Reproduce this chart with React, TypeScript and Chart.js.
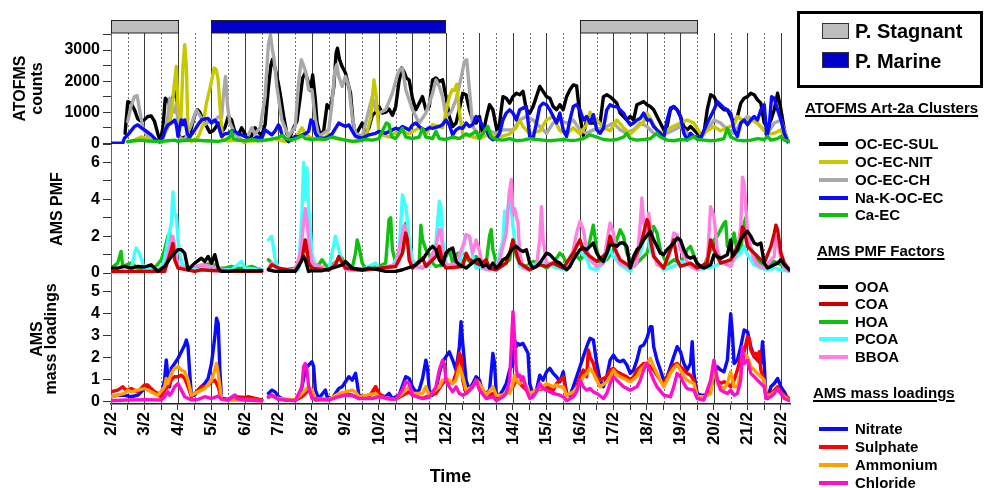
import React, { useEffect, useRef } from 'react';
import { Chart, registerables } from 'chart.js';

Chart.register(...registerables);

type Pt = [number, number | null];

const FONT = '"Liberation Sans", Arial, Helvetica, sans-serif';

// x axis: days of February
const DAY_LABELS = ['2/2', '3/2', '4/2', '5/2', '6/2', '7/2', '8/2', '9/2', '10/2', '11/2', '12/2', '13/2', '14/2', '15/2', '16/2', '17/2', '18/2', '19/2', '20/2', '21/2', '22/2'];
const FIRST_DAY = 2;
const LAST_TIME = 22.27;

// air-mass periods shown above the plot
const PERIOD_NAMES = ['P. Stagnant', 'P. Marine'];
const PERIOD_START = [2, 5, 16];
const PERIOD_END = [4, 12, 19.5];
const PERIOD_KIND = [0, 1, 0];

// y tick values of each panel
const TOP_TICKS = [0, 500, 1000, 1500, 2000, 2500, 3000, 3500];
const TOP_LABELLED = [0, 1000, 2000, 3000];
const MID_TICKS = [0, 1, 2, 3, 4, 5, 6, 7];
const MID_LABELLED = [0, 2, 4, 6];
const BOT_TICKS = [0, 1, 2, 3, 4, 5];
const BOT_LABELLED = [0, 1, 2, 3, 4, 5];

// ---------- ATOFMS Art-2a clusters (counts) ----------
const OC_EC_SUL: Pt[] = [[2.42,320],[2.5,1340],[2.6,1290],[2.7,1080],[2.8,780],[2.9,700],[3.0,760],[3.1,860],[3.2,880],[3.3,700],[3.4,300],[3.47,60],[3.55,500],[3.62,1450],[3.7,1350],[3.78,1180],[3.85,1500],[3.92,1660],[3.97,1450],[4.02,250],[4.1,150],[4.2,200],[4.3,120],[4.4,500],[4.5,900],[4.58,1080],[4.65,1000],[4.75,750],[4.85,550],[4.95,350],[5.05,400],[5.15,550],[5.22,650],[5.3,350],[5.4,500],[5.5,860],[5.6,750],[5.7,350],[5.8,250],[5.9,500],[6.0,300],[6.1,150],[6.2,250],[6.3,500],[6.4,350],[6.5,250],[6.6,600],[6.7,1800],[6.77,2500],[6.82,2700],[6.9,2400],[7.0,1900],[7.05,1600],[7.15,900],[7.25,300],[7.35,200],[7.45,500],[7.55,700],[7.65,1500],[7.72,2100],[7.8,2260],[7.88,2000],[7.95,1700],[8.02,2200],[8.1,1400],[8.15,660],[8.25,250],[8.35,400],[8.45,1240],[8.55,1100],[8.65,1800],[8.72,2900],[8.76,3060],[8.82,2700],[8.9,2470],[9.0,2260],[9.08,1900],[9.15,1610],[9.22,750],[9.3,250],[9.4,450],[9.5,650],[9.6,300],[9.7,500],[9.8,900],[9.9,1000],[10.0,1180],[10.1,970],[10.2,1000],[10.3,1100],[10.4,900],[10.5,1180],[10.6,2000],[10.68,2420],[10.75,2300],[10.82,2100],[10.9,2040],[11.0,1450],[11.1,1080],[11.2,1290],[11.3,1500],[11.4,1080],[11.5,1180],[11.6,2040],[11.7,2100],[11.8,1990],[11.9,2040],[12.0,1500],[12.1,860],[12.2,540],[12.3,650],[12.4,1100],[12.5,1610],[12.6,1560],[12.7,1080],[12.8,750],[12.9,650],[13.0,860],[13.1,250],[13.2,800],[13.3,1240],[13.4,1080],[13.55,250],[13.6,650],[13.7,1500],[13.8,1450],[13.9,1290],[14.0,1500],[14.1,1610],[14.2,1560],[14.3,1670],[14.4,1080],[14.5,970],[14.6,1180],[14.7,1500],[14.8,1830],[14.9,1670],[15.0,1500],[15.1,1450],[15.2,1180],[15.3,1080],[15.4,1240],[15.5,1080],[15.6,1500],[15.7,1720],[15.8,1880],[15.9,1850],[16.0,860],[16.1,250],[16.2,750],[16.3,650],[16.4,650],[16.5,700],[16.6,650],[16.7,1500],[16.8,1560],[16.9,1500],[17.0,1400],[17.1,1290],[17.2,970],[17.3,860],[17.4,750],[17.5,860],[17.6,750],[17.7,1240],[17.8,1290],[17.9,1340],[18.0,1240],[18.1,1180],[18.2,1080],[18.3,860],[18.4,650],[18.5,430],[18.6,540],[18.7,1080],[18.8,1180],[18.9,1080],[19.0,860],[19.1,540],[19.2,430],[19.3,540],[19.4,430],[19.5,320],[19.6,220],[19.7,320],[19.8,1080],[19.9,1560],[20.0,1500],[20.1,1290],[20.2,1180],[20.3,1080],[20.4,1080],[20.5,860],[20.6,650],[20.7,860],[20.8,1290],[20.9,1450],[21.0,1500],[21.1,1610],[21.2,1560],[21.3,1400],[21.4,1290],[21.5,650],[21.6,540],[21.7,750],[21.8,1080],[21.9,1610],[22.0,1080],[22.1,430],[22.2,50]];

const OC_EC_NIT: Pt[] = [[2.5,50],[2.7,100],[2.9,200],[3.1,150],[3.3,100],[3.5,50],[3.6,300],[3.7,500],[3.8,900],[3.88,1800],[3.95,2470],[4.0,1200],[4.08,600],[4.15,2500],[4.2,3170],[4.25,2500],[4.3,300],[4.4,50],[4.6,200],[4.75,600],[4.85,1300],[4.92,1610],[5.0,1990],[5.08,2420],[5.14,2370],[5.2,2040],[5.26,1080],[5.33,100],[5.5,80],[5.8,100],[6.0,50],[6.3,80],[6.6,100],[6.9,150],[7.2,50],[7.5,150],[7.7,500],[7.8,300],[8.0,150],[8.3,100],[8.5,300],[8.7,150],[9.0,100],[9.3,50],[9.6,200],[9.75,800],[9.85,2040],[9.92,1500],[10.0,300],[10.3,200],[10.6,400],[10.9,300],[11.2,500],[11.4,300],[11.6,600],[11.9,500],[12.0,1000],[12.1,1500],[12.18,1720],[12.25,1700],[12.32,1900],[12.4,1000],[12.5,300],[12.8,200],[13.0,150],[13.3,300],[13.6,200],[13.9,300],[14.1,500],[14.2,750],[14.3,540],[14.5,300],[14.8,400],[15.0,750],[15.2,860],[15.4,400],[15.6,300],[15.8,500],[16.0,300],[16.2,600],[16.3,1000],[16.4,800],[16.5,750],[16.7,500],[16.9,400],[17.1,750],[17.3,500],[17.5,300],[17.7,500],[17.9,700],[18.0,970],[18.1,800],[18.3,400],[18.5,320],[18.7,500],[18.9,600],[19.1,700],[19.2,750],[19.4,650],[19.6,300],[19.8,400],[20.0,540],[20.2,400],[20.4,500],[20.6,600],[20.7,860],[20.9,700],[21.1,750],[21.3,650],[21.5,400],[21.7,300],[21.8,320],[22.0,430],[22.1,200],[22.2,100]];

const OC_EC_CH: Pt[] = [[2.5,700],[2.6,1200],[2.7,1500],[2.78,1530],[2.85,1100],[2.95,500],[3.05,300],[3.2,100],[3.4,50],[3.5,0],[3.6,300],[3.7,900],[3.75,1450],[3.82,1100],[3.9,1000],[3.96,1300],[4.02,200],[4.2,100],[4.4,600],[4.55,1075],[4.65,900],[4.8,600],[5.0,750],[5.1,700],[5.2,850],[5.3,860],[5.37,1700],[5.42,2150],[5.48,1200],[5.55,650],[5.7,300],[5.8,200],[6.0,0],[6.2,500],[6.3,300],[6.45,500],[6.6,1500],[6.7,3200],[6.76,3490],[6.82,3000],[6.87,2690],[6.95,1830],[7.1,750],[7.3,220],[7.5,540],[7.6,1935],[7.68,2690],[7.75,2500],[7.82,2260],[7.9,1720],[8.0,1720],[8.1,750],[8.2,220],[8.5,430],[8.6,1290],[8.68,2365],[8.74,2530],[8.8,2150],[8.9,1830],[9.0,2150],[9.1,1830],[9.2,860],[9.3,320],[9.5,220],[9.7,1075],[9.8,1500],[9.9,1075],[10.0,970],[10.2,1075],[10.4,1610],[10.55,2200],[10.62,2365],[10.7,2420],[10.8,1720],[10.9,1400],[11.0,1075],[11.2,650],[11.4,970],[11.6,1610],[11.7,2040],[11.8,1830],[11.9,1500],[12.0,860],[12.15,1000],[12.3,1400],[12.45,2100],[12.55,2630],[12.62,2690],[12.7,1720],[12.8,540],[13.0,220],[13.2,430],[13.5,320],[13.7,430],[14.0,430],[14.2,750],[14.4,860],[14.6,750],[14.8,540],[15.0,320],[15.2,650],[15.4,750],[15.6,650],[15.8,750],[16.0,430],[16.2,320],[16.4,430],[16.6,480],[16.8,540],[17.0,650],[17.2,430],[17.4,320],[17.6,430],[17.8,650],[18.0,540],[18.2,320],[18.4,220],[18.6,320],[18.8,430],[19.0,540],[19.2,320],[19.4,220],[19.6,160],[19.8,430],[20.0,750],[20.2,650],[20.4,430],[20.6,320],[20.8,650],[21.0,860],[21.2,750],[21.4,540],[21.6,320],[21.8,650],[22.0,750],[22.2,110]];

const NA_K_OC_EC: Pt[] = [[2.0,0],[2.35,0],[2.4,160],[2.5,270],[2.6,400],[2.7,540],[2.8,590],[2.9,500],[3.0,430],[3.1,350],[3.2,270],[3.35,100],[3.45,50],[3.55,200],[3.62,430],[3.7,590],[3.8,650],[3.9,750],[3.95,600],[4.0,220],[4.05,500],[4.1,750],[4.15,600],[4.2,750],[4.28,300],[4.35,200],[4.5,430],[4.6,600],[4.7,750],[4.8,780],[4.9,800],[5.0,650],[5.1,750],[5.2,590],[5.3,220],[5.4,300],[5.5,320],[5.6,400],[5.7,380],[5.8,300],[5.9,270],[6.0,220],[6.2,110],[6.35,200],[6.5,160],[6.6,430],[6.7,350],[6.8,270],[6.9,400],[7.0,590],[7.05,500],[7.1,270],[7.3,50],[7.5,220],[7.6,200],[7.7,270],[7.8,300],[7.9,380],[7.97,750],[8.03,700],[8.1,320],[8.2,160],[8.4,160],[8.5,220],[8.6,300],[8.7,480],[8.8,650],[8.9,590],[9.0,540],[9.1,590],[9.2,400],[9.3,220],[9.5,160],[9.7,270],[9.9,320],[10.0,380],[10.2,320],[10.4,430],[10.5,480],[10.6,450],[10.7,540],[10.9,430],[11.0,590],[11.1,650],[11.2,540],[11.3,450],[11.4,430],[11.5,500],[11.6,480],[11.8,540],[11.9,600],[12.0,750],[12.1,590],[12.2,270],[12.3,430],[12.4,500],[12.5,480],[12.6,650],[12.7,540],[12.8,600],[12.9,860],[13.0,750],[13.1,540],[13.2,430],[13.3,200],[13.4,110],[13.5,160],[13.6,320],[13.7,750],[13.8,970],[13.9,1075],[14.0,970],[14.1,750],[14.2,1075],[14.3,1130],[14.4,1180],[14.5,220],[14.6,160],[14.7,650],[14.8,1180],[14.9,1290],[15.0,1240],[15.1,1075],[15.2,860],[15.3,650],[15.4,970],[15.5,430],[15.6,220],[15.7,750],[15.8,1180],[15.9,1240],[16.0,1075],[16.1,750],[16.2,860],[16.3,650],[16.4,920],[16.5,430],[16.6,320],[16.7,480],[16.8,1075],[16.9,1240],[17.0,1180],[17.1,1180],[17.2,1075],[17.3,970],[17.4,750],[17.5,590],[17.6,650],[17.7,750],[17.8,800],[17.9,970],[18.0,750],[18.1,750],[18.2,540],[18.3,430],[18.4,320],[18.5,160],[18.6,750],[18.7,1130],[18.8,1180],[18.9,1075],[19.0,860],[19.1,320],[19.2,110],[19.3,320],[19.4,220],[19.6,160],[19.8,650],[19.9,860],[20.0,1075],[20.1,1340],[20.2,1240],[20.3,1130],[20.4,1075],[20.5,970],[20.6,430],[20.7,220],[20.8,650],[20.9,750],[21.0,590],[21.1,750],[21.2,860],[21.3,750],[21.4,1075],[21.5,1240],[21.58,220],[21.65,540],[21.72,1500],[21.8,1450],[21.9,1075],[22.0,750],[22.1,320],[22.2,50]];

const CA_EC: Pt[] = [[2.5,50],[2.7,80],[2.9,100],[3.1,70],[3.3,60],[3.5,60],[3.7,80],[3.9,100],[4.0,60],[4.2,90],[4.5,100],[4.8,80],[5.0,70],[5.2,60],[5.4,100],[5.55,200],[5.6,380],[5.65,150],[5.8,100],[6.0,80],[6.2,120],[6.4,80],[6.6,100],[6.8,130],[7.0,180],[7.1,250],[7.2,150],[7.4,100],[7.6,180],[7.7,250],[7.8,150],[8.0,120],[8.2,150],[8.4,120],[8.6,200],[8.8,150],[9.0,100],[9.2,60],[9.4,80],[9.6,120],[9.8,100],[10.0,150],[10.15,500],[10.22,650],[10.3,600],[10.38,200],[10.5,150],[10.7,480],[10.8,200],[11.0,150],[11.2,200],[11.3,480],[11.4,200],[11.6,150],[11.7,380],[11.8,150],[12.0,120],[12.2,200],[12.4,150],[12.6,300],[12.7,250],[12.9,380],[13.0,150],[13.15,400],[13.25,540],[13.35,200],[13.5,120],[13.7,100],[13.9,150],[14.1,80],[14.3,100],[14.5,150],[14.7,120],[14.9,100],[15.1,80],[15.3,100],[15.5,120],[15.7,90],[15.9,100],[16.1,150],[16.3,270],[16.5,200],[16.7,120],[16.9,100],[17.1,120],[17.3,200],[17.4,320],[17.5,150],[17.7,100],[17.9,120],[18.1,150],[18.3,320],[18.4,200],[18.6,100],[18.8,80],[19.0,120],[19.2,100],[19.4,220],[19.5,120],[19.7,100],[19.9,80],[20.1,100],[20.3,150],[20.4,480],[20.5,200],[20.7,100],[20.9,80],[21.1,100],[21.3,150],[21.5,120],[21.6,220],[21.7,100],[21.9,150],[22.0,220],[22.1,100],[22.25,50]];

// ---------- AMS PMF factors ----------
const OOA: Pt[] = [[2.0,0.27],[2.2,0.27],[2.4,0.36],[2.6,0.27],[2.8,0.36],[3.0,0.33],[3.2,0.45],[3.4,0.09],[3.6,0.36],[3.7,0.63],[3.8,0.9],[3.9,1.08],[4.0,1.27],[4.1,1.27],[4.2,1.08],[4.3,0.18],[4.5,0.54],[4.7,0.81],[4.8,0.63],[4.9,0.9],[5.0,0.54],[5.1,1.0],[5.2,0.27],[5.3,0.09],[5.5,0.09],[5.7,0.14],[6.0,0.13],[6.3,0.13],[6.5,0.14],[6.6,null],[6.7,0.18],[6.9,0.09],[7.2,0.09],[7.5,0.09],[7.6,0.36],[7.7,0.72],[7.75,0.9],[7.8,0.72],[7.9,0.09],[8.0,0.13],[8.3,0.13],[8.6,0.27],[8.9,0.45],[9.0,0.63],[9.1,0.45],[9.2,0.27],[9.5,0.18],[9.7,0.27],[10.0,0.18],[10.2,0.09],[10.5,0.09],[10.7,0.18],[11.0,0.36],[11.1,0.45],[11.2,0.63],[11.3,0.72],[11.4,1.0],[11.5,1.27],[11.6,1.45],[11.7,1.27],[11.8,0.72],[11.9,0.45],[12.0,1.08],[12.1,1.27],[12.2,1.36],[12.3,0.63],[12.4,0.45],[12.6,0.27],[12.9,0.72],[13.0,0.72],[13.1,0.36],[13.2,0.45],[13.3,0.27],[13.4,0.54],[13.5,0.27],[13.6,0.45],[13.7,0.72],[13.8,0.81],[13.9,1.08],[14.0,1.36],[14.1,1.45],[14.2,1.27],[14.3,1.17],[14.4,1.27],[14.5,0.54],[14.6,0.27],[14.7,0.36],[14.8,0.54],[14.9,0.81],[15.0,1.08],[15.1,1.0],[15.2,0.81],[15.3,0.63],[15.4,0.54],[15.5,0.36],[15.6,0.18],[15.7,0.36],[15.8,0.72],[15.9,1.0],[16.0,1.27],[16.1,1.36],[16.2,1.27],[16.3,1.45],[16.4,1.63],[16.5,1.08],[16.6,0.81],[16.7,0.63],[16.8,1.08],[16.9,1.54],[17.0,1.54],[17.1,1.45],[17.2,1.63],[17.3,1.63],[17.4,1.45],[17.5,0.27],[17.6,0.9],[17.7,1.27],[17.8,1.45],[17.9,1.8],[18.1,2.26],[18.2,1.8],[18.3,1.45],[18.4,1.08],[18.5,1.0],[18.6,1.27],[18.7,1.45],[18.8,1.63],[18.9,1.9],[19.0,1.8],[19.1,1.27],[19.2,0.9],[19.3,0.81],[19.4,0.9],[19.5,0.54],[19.6,0.36],[19.7,0.27],[19.8,0.36],[19.9,0.45],[20.0,1.0],[20.1,0.9],[20.2,0.81],[20.3,0.9],[20.4,1.0],[20.5,1.8],[20.55,0.9],[20.6,1.0],[20.7,1.27],[20.8,1.8],[20.9,2.08],[21.0,2.26],[21.1,2.0],[21.2,1.63],[21.3,1.54],[21.4,1.63],[21.5,0.54],[21.6,0.27],[21.7,0.36],[21.8,0.45],[21.9,0.54],[22.0,0.72],[22.1,0.45],[22.2,0.27],[22.25,0.18]];

const COA: Pt[] = [[2.0,0.09],[2.5,0.09],[3.0,0.09],[3.6,0.09],[3.8,1.27],[3.85,1.6],[3.9,0.72],[4.0,0.27],[4.5,0.09],[4.7,0.18],[5.0,0.14],[5.5,0.09],[6.0,0.09],[6.5,0.09],[6.6,null],[6.7,0.2],[6.8,0.45],[7.0,0.27],[7.5,0.1],[7.7,0.72],[7.8,1.8],[7.85,1.27],[7.9,0.54],[8.0,0.27],[8.5,0.15],[8.7,0.45],[8.8,0.9],[9.0,0.27],[9.5,0.15],[10.0,0.27],[10.5,0.36],[10.7,1.08],[10.8,2.17],[10.85,1.8],[10.9,0.72],[11.0,0.27],[11.3,0.81],[11.4,0.36],[11.7,0.9],[11.8,1.45],[11.9,0.54],[12.0,0.27],[12.5,0.36],[12.6,1.08],[12.7,0.72],[13.0,0.45],[13.2,0.72],[13.3,0.27],[13.5,0.18],[13.8,0.54],[13.9,1.08],[14.0,1.8],[14.1,1.08],[14.2,0.54],[14.5,0.18],[14.8,0.45],[15.0,0.36],[15.2,0.54],[15.5,0.27],[15.8,1.08],[15.9,1.45],[16.0,1.8],[16.1,1.27],[16.3,0.9],[16.5,0.63],[16.8,1.08],[16.9,2.0],[17.0,1.45],[17.2,0.72],[17.5,0.36],[17.8,1.45],[17.9,2.17],[18.0,2.9],[18.05,2.7],[18.1,1.8],[18.2,0.9],[18.5,0.27],[18.7,1.27],[18.8,1.8],[18.9,0.72],[19.0,0.36],[19.3,0.54],[19.5,0.27],[19.8,0.54],[19.9,1.8],[20.0,1.27],[20.2,0.54],[20.5,0.72],[20.8,1.8],[20.85,2.5],[20.9,2.35],[21.0,1.45],[21.2,1.08],[21.3,0.9],[21.5,0.54],[21.7,1.45],[21.8,2.17],[21.85,2.6],[21.9,2.35],[22.0,1.08],[22.1,0.54],[22.25,0.18]];

const HOA: Pt[] = [[2.0,0.27],[2.2,0.54],[2.3,1.17],[2.35,0.36],[2.6,0.54],[2.8,0.27],[3.0,0.18],[3.3,0.27],[3.5,0.72],[3.6,1.27],[3.7,2.0],[3.75,2.17],[3.8,1.27],[3.9,0.9],[4.0,0.36],[4.2,0.27],[4.4,0.18],[4.6,0.36],[4.8,0.45],[5.0,0.54],[5.2,0.27],[5.4,0.27],[5.6,0.36],[5.8,0.27],[6.0,0.27],[6.2,0.36],[6.4,0.22],[6.5,0.18],[6.6,null],[6.7,0.72],[6.8,0.54],[7.0,0.27],[7.2,0.18],[7.5,0.27],[7.6,0.54],[7.7,1.45],[7.75,1.8],[7.8,1.45],[7.9,0.81],[8.0,0.27],[8.2,0.45],[8.3,0.72],[8.4,0.45],[8.5,0.27],[8.6,0.45],[8.8,0.72],[8.9,0.81],[9.0,0.36],[9.2,0.27],[9.3,1.08],[9.35,1.8],[9.4,1.45],[9.5,0.54],[9.6,0.27],[9.8,0.36],[10.0,0.36],[10.2,0.54],[10.3,2.9],[10.35,3.0],[10.4,1.27],[10.5,0.54],[10.6,1.0],[10.7,1.08],[10.8,2.71],[10.85,2.6],[10.9,1.27],[11.0,0.27],[11.2,0.54],[11.25,2.6],[11.3,1.8],[11.4,1.27],[11.5,1.0],[11.6,0.54],[11.7,0.36],[11.9,0.45],[12.0,0.9],[12.1,1.27],[12.2,0.54],[12.35,1.08],[12.5,0.54],[12.6,0.81],[12.7,0.63],[12.9,0.9],[13.0,0.63],[13.1,0.27],[13.2,0.54],[13.3,2.0],[13.35,2.35],[13.4,1.27],[13.5,0.54],[13.6,0.36],[13.7,0.45],[13.9,0.72],[14.0,1.8],[14.1,0.9],[14.2,0.54],[14.4,0.36],[14.6,0.63],[14.8,0.54],[15.0,0.27],[15.2,0.54],[15.4,1.08],[15.5,0.9],[15.6,0.54],[15.8,1.17],[16.0,0.72],[16.2,1.08],[16.3,1.8],[16.4,2.6],[16.5,1.27],[16.6,0.54],[16.8,0.72],[17.0,1.27],[17.2,2.35],[17.3,2.0],[17.4,1.08],[17.6,0.36],[17.8,0.72],[18.0,1.08],[18.1,1.8],[18.2,2.53],[18.3,2.17],[18.4,1.27],[18.6,0.45],[18.8,0.72],[19.0,0.54],[19.2,1.27],[19.3,1.45],[19.5,0.45],[19.7,0.36],[19.9,1.27],[20.0,1.8],[20.1,2.0],[20.3,2.71],[20.35,2.8],[20.4,1.45],[20.5,1.27],[20.6,2.17],[20.7,1.08],[20.8,1.27],[20.9,2.71],[20.95,3.0],[21.0,1.8],[21.2,0.9],[21.4,0.54],[21.6,0.36],[21.8,0.63],[22.0,0.45],[22.25,0.18]];

const PCOA: Pt[] = [[2.0,0.05],[2.6,0.09],[2.7,1.08],[2.75,1.36],[2.85,1.08],[3.0,0.18],[3.5,0.27],[3.6,0.72],[3.7,1.8],[3.8,2.71],[3.85,4.4],[3.9,3.16],[3.95,3.16],[4.0,1.8],[4.1,0.54],[4.3,0.27],[4.6,0.18],[5.0,0.36],[5.2,0.18],[5.6,0.18],[5.9,0.63],[6.0,0.27],[6.5,0.18],[6.6,null],[6.7,1.8],[6.8,2.0],[6.9,0.72],[7.0,0.27],[7.3,0.18],[7.6,0.18],[7.7,3.25],[7.75,6.0],[7.8,4.0],[7.85,5.7],[7.9,3.6],[8.0,1.08],[8.1,0.36],[8.3,0.27],[8.5,0.18],[8.7,2.0],[8.8,1.27],[8.9,0.54],[9.0,0.27],[9.3,0.18],[9.6,0.27],[9.9,0.54],[10.0,0.27],[10.4,0.36],[10.6,1.08],[10.7,4.25],[10.75,3.9],[10.8,3.6],[10.85,2.9],[10.9,1.8],[11.0,0.72],[11.2,0.36],[11.5,0.36],[11.7,1.63],[11.8,3.9],[11.85,3.6],[11.9,1.8],[12.0,0.54],[12.2,0.27],[12.4,0.54],[12.5,1.27],[12.6,2.08],[12.7,2.0],[12.8,0.9],[12.9,0.27],[13.0,0.36],[13.2,0.18],[13.5,0.27],[13.7,1.8],[13.75,3.35],[13.8,2.53],[13.9,4.5],[14.0,2.53],[14.1,1.08],[14.2,0.36],[14.4,0.27],[14.6,0.45],[14.8,0.54],[15.0,0.54],[15.2,0.36],[15.5,0.18],[15.8,0.72],[16.0,1.17],[16.2,0.81],[16.3,0.27],[16.5,0.18],[16.7,0.54],[16.9,1.27],[17.0,0.9],[17.2,0.45],[17.5,0.09],[17.8,1.08],[17.9,1.8],[18.0,2.17],[18.1,1.27],[18.3,0.63],[18.5,0.18],[18.8,0.36],[19.0,0.63],[19.2,0.45],[19.5,0.18],[19.8,0.27],[20.0,0.36],[20.2,0.54],[20.4,0.45],[20.6,0.72],[20.8,1.08],[20.9,1.45],[21.0,1.0],[21.2,0.45],[21.4,0.27],[21.6,0.18],[21.8,0.27],[22.0,0.18],[22.25,0.09]];

const BBOA: Pt[] = [[2.0,0.09],[3.6,0.09],[3.7,1.0],[3.8,1.8],[3.85,2.0],[3.9,1.45],[4.0,0.36],[4.2,0.27],[4.5,0.36],[4.7,0.45],[5.0,0.36],[5.2,0.27],[5.5,0.09],[6.5,0.09],[6.6,null],[6.7,0.27],[6.8,0.54],[7.0,0.18],[7.5,0.15],[7.65,1.08],[7.7,1.8],[7.75,2.71],[7.8,3.5],[7.85,2.9],[7.9,1.8],[8.0,0.54],[8.5,0.18],[8.7,0.54],[8.8,0.81],[8.9,0.54],[9.0,0.18],[9.5,0.15],[10.0,0.27],[10.5,0.45],[10.6,1.27],[10.75,2.6],[10.8,2.35],[10.9,1.08],[11.0,0.36],[11.3,0.27],[11.5,0.63],[11.7,1.45],[11.8,2.35],[11.85,2.35],[11.9,1.27],[12.0,0.36],[12.3,0.54],[12.5,1.45],[12.6,2.08],[12.7,2.0],[12.8,1.08],[12.9,1.8],[13.0,1.2],[13.1,0.27],[13.3,0.18],[13.5,0.27],[13.6,0.72],[13.7,1.45],[13.8,2.17],[13.9,4.5],[13.95,5.06],[14.0,3.25],[14.05,3.5],[14.1,3.07],[14.15,2.71],[14.2,1.08],[14.3,0.27],[14.5,0.18],[14.7,0.36],[14.8,1.8],[14.85,3.6],[14.9,1.8],[15.0,0.54],[15.2,0.54],[15.4,0.36],[15.5,0.27],[15.7,0.36],[15.8,1.27],[15.9,2.17],[16.0,2.8],[16.1,2.35],[16.2,1.27],[16.3,0.72],[16.5,0.36],[16.7,0.54],[16.9,2.71],[17.0,2.17],[17.1,0.9],[17.2,0.54],[17.5,0.27],[17.7,0.54],[17.8,2.71],[17.85,4.07],[17.9,2.71],[18.0,2.17],[18.05,3.25],[18.1,2.53],[18.2,1.08],[18.3,0.45],[18.5,0.27],[18.7,1.27],[18.8,2.17],[18.9,2.08],[19.0,1.27],[19.1,0.9],[19.3,0.36],[19.5,0.18],[19.8,0.54],[19.9,3.6],[20.0,3.07],[20.1,1.27],[20.2,0.72],[20.3,0.54],[20.5,0.36],[20.7,1.27],[20.8,2.53],[20.85,5.2],[20.9,4.88],[20.95,3.6],[21.0,2.35],[21.1,1.27],[21.2,0.72],[21.3,0.45],[21.5,0.27],[21.8,0.9],[21.85,2.0],[21.9,1.8],[22.0,0.72],[22.1,0.27],[22.25,0.09]];

// ---------- AMS mass loadings ----------
const NITRATE: Pt[] = [[2.0,0.23],[2.2,0.3],[2.4,0.3],[2.6,0.23],[2.8,0.3],[3.0,0.6],[3.1,0.68],[3.2,0.53],[3.4,0.38],[3.5,0.3],[3.6,1.0],[3.65,1.9],[3.7,1.14],[3.75,0.68],[3.8,1.52],[3.9,1.74],[4.0,1.97],[4.1,2.27],[4.2,2.58],[4.25,2.8],[4.3,2.5],[4.35,1.29],[4.4,0.3],[4.5,0.3],[4.6,0.53],[4.7,0.68],[4.8,0.83],[4.9,1.06],[5.0,1.74],[5.1,2.95],[5.15,3.79],[5.2,3.56],[5.25,1.44],[5.3,0.15],[5.5,0.11],[5.7,0.3],[5.75,0.15],[6.0,0.15],[6.2,0.15],[6.5,0.08],[6.6,null],[6.7,0.38],[6.8,0.53],[6.9,0.45],[7.0,0.23],[7.2,0.08],[7.5,0.08],[7.6,0.15],[7.7,0.68],[7.8,1.44],[7.85,1.59],[8.0,1.82],[8.05,1.59],[8.1,0.53],[8.2,0.15],[8.4,0.53],[8.45,0.23],[8.6,0.15],[8.8,0.6],[8.9,0.68],[9.0,0.91],[9.1,1.14],[9.2,0.98],[9.3,1.29],[9.35,0.83],[9.4,0.3],[9.6,0.23],[9.8,0.38],[9.9,0.68],[10.0,0.3],[10.2,0.23],[10.3,0.38],[10.4,0.15],[10.6,0.3],[10.8,1.14],[10.9,1.06],[11.0,0.68],[11.1,0.45],[11.2,0.53],[11.3,1.06],[11.4,1.89],[11.45,1.52],[11.5,0.53],[11.6,0.3],[11.7,0.53],[11.8,1.29],[11.9,1.82],[12.0,2.05],[12.1,2.27],[12.2,1.89],[12.3,1.44],[12.4,2.5],[12.45,3.64],[12.5,2.65],[12.6,0.98],[12.7,0.53],[12.8,0.83],[12.9,1.14],[13.0,0.98],[13.1,0.45],[13.2,0.38],[13.3,0.53],[13.4,2.2],[13.45,1.74],[13.5,0.38],[13.6,0.3],[13.7,0.53],[13.8,0.83],[13.9,1.44],[14.0,1.74],[14.05,2.8],[14.1,2.5],[14.15,2.65],[14.2,2.58],[14.3,2.65],[14.4,2.35],[14.45,2.2],[14.5,0.83],[14.6,0.3],[14.7,0.53],[14.8,1.21],[14.9,0.98],[15.0,1.36],[15.1,1.52],[15.2,1.29],[15.3,1.14],[15.4,0.91],[15.5,1.36],[15.6,0.38],[15.7,0.3],[15.8,0.68],[15.9,1.14],[16.0,1.59],[16.1,2.05],[16.2,2.5],[16.3,2.88],[16.4,2.8],[16.5,1.74],[16.6,0.98],[16.7,0.68],[16.8,1.14],[16.9,1.89],[17.0,2.12],[17.1,1.89],[17.2,1.82],[17.3,1.89],[17.4,1.67],[17.5,1.29],[17.6,1.44],[17.7,1.89],[17.8,2.5],[17.9,2.58],[18.0,2.88],[18.1,3.41],[18.15,3.41],[18.2,2.5],[18.3,1.89],[18.4,1.44],[18.5,0.98],[18.6,1.14],[18.7,1.59],[18.8,2.05],[18.9,2.5],[19.0,2.27],[19.1,1.74],[19.2,1.44],[19.3,1.74],[19.35,2.73],[19.4,1.29],[19.5,0.38],[19.6,0.3],[19.8,0.3],[19.9,0.53],[20.0,1.29],[20.1,1.59],[20.2,1.44],[20.3,1.36],[20.4,1.89],[20.5,4.0],[20.55,3.11],[20.6,1.74],[20.7,1.89],[20.8,2.5],[20.9,3.26],[21.0,3.18],[21.1,2.5],[21.2,2.05],[21.3,1.89],[21.4,1.74],[21.45,2.73],[21.5,1.74],[21.55,0.23],[21.6,0.15],[21.7,0.68],[21.8,0.83],[21.9,1.06],[22.0,0.68],[22.1,0.45],[22.2,0.15],[22.25,0.08]];

const SULPHATE: Pt[] = [[2.0,0.45],[2.2,0.53],[2.35,0.68],[2.45,0.53],[2.6,0.6],[2.8,0.45],[3.0,0.76],[3.1,0.76],[3.2,0.6],[3.4,0.3],[3.5,0.23],[3.6,0.53],[3.7,0.68],[3.8,0.98],[3.9,1.14],[4.0,1.14],[4.1,1.21],[4.2,1.06],[4.3,0.68],[4.4,0.23],[4.6,0.53],[4.7,0.71],[4.8,0.68],[4.9,0.76],[5.0,0.91],[5.1,0.98],[5.2,0.68],[5.3,0.11],[5.5,0.11],[5.7,0.23],[6.0,0.2],[6.1,0.23],[6.3,0.15],[6.5,0.08],[6.6,null],[6.7,0.2],[6.8,0.3],[7.0,0.11],[7.5,0.08],[7.7,0.23],[7.8,0.38],[7.9,0.53],[8.0,0.38],[8.1,0.08],[8.5,0.11],[8.8,0.3],[9.0,0.38],[9.2,0.3],[9.4,0.15],[9.7,0.23],[9.9,0.68],[10.0,0.38],[10.2,0.15],[10.5,0.11],[10.8,0.38],[10.9,0.45],[11.0,0.3],[11.3,0.15],[11.5,0.3],[11.7,0.38],[11.9,0.83],[12.0,0.98],[12.2,0.83],[12.3,1.29],[12.4,2.2],[12.45,2.05],[12.5,0.98],[12.6,0.38],[12.8,0.68],[12.9,0.98],[13.0,0.68],[13.2,0.23],[13.4,0.38],[13.5,0.23],[13.7,0.3],[13.9,0.53],[14.0,0.68],[14.1,0.98],[14.2,0.83],[14.3,0.68],[14.5,0.38],[14.7,0.53],[14.9,0.6],[15.0,0.68],[15.2,0.53],[15.3,0.83],[15.4,0.98],[15.5,1.14],[15.6,0.3],[15.8,0.38],[15.9,0.68],[16.0,1.14],[16.1,1.44],[16.2,1.14],[16.25,2.35],[16.3,2.05],[16.4,1.74],[16.5,1.14],[16.6,0.98],[16.7,1.06],[16.8,1.14],[16.9,1.44],[17.0,1.52],[17.1,1.36],[17.2,1.29],[17.3,1.21],[17.4,1.14],[17.5,0.98],[17.6,1.14],[17.7,1.44],[17.8,1.59],[17.9,1.74],[18.0,1.74],[18.1,1.59],[18.2,1.44],[18.3,1.21],[18.4,0.98],[18.5,0.83],[18.6,1.14],[18.7,1.44],[18.8,1.67],[18.9,1.74],[19.0,1.59],[19.1,1.44],[19.2,1.29],[19.3,1.21],[19.4,0.98],[19.5,0.23],[19.7,0.23],[19.9,0.53],[20.0,1.74],[20.1,0.98],[20.2,0.83],[20.3,0.91],[20.4,0.83],[20.5,0.68],[20.6,0.98],[20.7,1.44],[20.8,2.05],[20.85,1.89],[21.0,2.95],[21.05,2.88],[21.1,2.35],[21.2,2.05],[21.25,2.2],[21.3,1.89],[21.35,2.27],[21.4,1.44],[21.5,0.98],[21.55,0.3],[21.7,0.38],[21.8,0.53],[21.9,0.68],[22.0,0.45],[22.1,0.3],[22.25,0.15]];

const AMMONIUM: Pt[] = [[2.0,0.23],[2.2,0.3],[2.4,0.38],[2.5,0.53],[2.6,0.45],[2.8,0.53],[3.0,0.6],[3.1,0.53],[3.2,0.45],[3.4,0.3],[3.6,0.68],[3.65,1.06],[3.7,0.83],[3.8,1.29],[3.9,1.52],[4.0,1.59],[4.1,1.44],[4.2,1.36],[4.3,0.98],[4.4,0.3],[4.6,0.45],[4.8,0.6],[5.0,0.98],[5.1,1.44],[5.15,1.74],[5.2,1.29],[5.3,0.11],[5.5,0.08],[6.0,0.08],[6.5,0.05],[6.6,null],[6.7,0.23],[6.8,0.26],[7.0,0.15],[7.5,0.08],[7.8,0.53],[7.9,0.68],[8.0,0.53],[8.1,0.15],[8.5,0.11],[8.8,0.38],[9.0,0.45],[9.2,0.53],[9.3,0.45],[9.4,0.23],[9.9,0.38],[10.0,0.23],[10.5,0.11],[10.8,0.53],[10.9,0.68],[11.0,0.38],[11.3,0.38],[11.4,0.68],[11.5,0.3],[11.8,0.68],[11.9,0.98],[12.0,1.06],[12.1,0.98],[12.2,0.83],[12.3,0.98],[12.4,1.59],[12.5,1.14],[12.6,0.53],[12.8,0.68],[12.9,0.98],[13.0,0.83],[13.2,0.3],[13.4,0.68],[13.5,0.3],[13.7,0.3],[13.85,0.53],[13.9,0.38],[14.0,0.83],[14.05,1.21],[14.1,0.98],[14.2,0.83],[14.3,1.06],[14.4,0.68],[14.5,0.38],[14.7,0.53],[14.9,0.68],[15.0,0.83],[15.2,0.68],[15.3,0.76],[15.4,0.68],[15.5,0.68],[15.6,0.3],[15.8,0.45],[16.0,0.83],[16.1,1.14],[16.2,1.29],[16.3,1.52],[16.4,1.29],[16.5,0.98],[16.6,0.68],[16.8,0.91],[16.9,1.14],[17.0,1.44],[17.1,1.21],[17.2,1.14],[17.3,1.06],[17.5,0.91],[17.7,1.14],[17.8,1.44],[18.0,1.74],[18.1,1.97],[18.2,1.59],[18.3,1.29],[18.4,0.98],[18.5,0.68],[18.6,0.98],[18.7,1.29],[18.8,1.52],[18.9,1.67],[19.0,1.44],[19.1,1.14],[19.2,0.98],[19.4,0.83],[19.5,0.23],[19.7,0.23],[19.9,0.38],[20.0,1.59],[20.1,0.83],[20.2,0.68],[20.3,0.6],[20.4,0.83],[20.5,1.36],[20.6,0.68],[20.7,0.68],[20.8,1.29],[20.9,2.2],[21.0,2.05],[21.1,1.59],[21.2,1.44],[21.3,1.29],[21.4,1.14],[21.5,0.98],[21.55,0.3],[21.7,0.3],[21.8,0.45],[21.9,0.53],[22.0,0.38],[22.1,0.23],[22.25,0.08]];

const CHLORIDE: Pt[] = [[2.0,0.05],[2.5,0.08],[3.0,0.1],[3.5,0.08],[3.6,0.23],[3.7,0.45],[3.75,0.3],[3.8,0.38],[3.9,0.68],[4.0,0.83],[4.1,0.53],[4.2,0.23],[4.4,0.08],[4.6,0.11],[4.8,0.23],[5.0,0.15],[5.2,0.26],[5.3,0.11],[5.5,0.08],[5.7,0.3],[5.75,0.15],[6.0,0.08],[6.5,0.05],[6.6,null],[6.7,0.23],[6.8,0.3],[7.0,0.11],[7.5,0.05],[7.7,0.68],[7.75,1.59],[7.8,1.74],[7.85,1.44],[7.9,0.68],[8.0,0.15],[8.5,0.08],[8.8,0.23],[9.0,0.3],[9.2,0.3],[9.4,0.15],[9.8,0.15],[10.0,0.23],[10.5,0.11],[10.7,0.53],[10.8,0.91],[10.9,0.83],[11.0,0.3],[11.3,0.15],[11.5,0.2],[11.7,0.68],[11.8,1.44],[11.9,1.89],[11.95,1.74],[12.0,0.98],[12.1,0.68],[12.2,0.45],[12.3,0.68],[12.4,0.38],[12.5,0.3],[12.6,0.38],[12.8,0.68],[12.9,0.98],[13.0,0.53],[13.2,0.15],[13.4,0.23],[13.5,0.05],[13.7,0.23],[13.8,0.38],[13.9,0.98],[13.95,2.5],[14.0,4.09],[14.05,2.8],[14.1,1.44],[14.15,1.14],[14.2,1.21],[14.25,0.98],[14.3,1.14],[14.4,0.53],[14.5,0.15],[14.6,0.23],[14.7,0.45],[14.8,0.83],[14.9,0.6],[15.0,0.53],[15.2,0.38],[15.4,0.3],[15.5,0.23],[15.6,0.05],[15.8,0.23],[15.9,0.45],[16.0,0.98],[16.1,0.68],[16.2,0.53],[16.3,0.6],[16.4,0.45],[16.5,0.38],[16.7,0.15],[16.8,0.38],[16.9,0.83],[17.0,1.14],[17.1,0.98],[17.2,0.83],[17.3,0.68],[17.5,0.53],[17.7,0.68],[17.8,0.98],[17.9,1.44],[18.0,1.74],[18.1,1.36],[18.2,0.98],[18.3,0.68],[18.5,0.3],[18.7,0.23],[18.8,0.68],[18.9,1.29],[19.0,1.14],[19.1,0.83],[19.2,0.6],[19.4,0.53],[19.5,0.15],[19.7,0.08],[19.9,0.98],[20.0,1.89],[20.1,0.98],[20.2,0.53],[20.3,0.45],[20.4,0.38],[20.5,0.53],[20.6,0.3],[20.7,0.38],[20.8,0.98],[20.85,2.5],[20.9,1.74],[21.0,1.89],[21.1,1.29],[21.2,1.14],[21.3,0.98],[21.4,0.83],[21.5,0.68],[21.55,0.15],[21.7,0.23],[21.8,0.38],[21.9,0.6],[22.0,0.38],[22.1,0.15],[22.25,0.05]];

// ---------- names / styles ----------
const ATOFMS_NAMES = ['OC-EC-SUL', 'OC-EC-NIT', 'OC-EC-CH', 'Na-K-OC-EC', 'Ca-EC'];
const PMF_NAMES = ['OOA', 'COA', 'HOA', 'PCOA', 'BBOA'];
const MASS_NAMES = ['Nitrate', 'Sulphate', 'Ammonium', 'Chloride'];

const ATOFMS_COLORS = ['#000000', '#c8c800', '#a8a8a8', '#0a0aff', '#10c010'];
const PMF_COLORS = ['#000000', '#d00000', '#10c010', '#40ffff', '#ff80e0'];
const MASS_COLORS = ['#0a0aff', '#ff0000', '#ffa000', '#ff10c8'];
const PERIOD_COLORS = ['#bebebe', '#0000c8'];

const ATOFMS_DATA = [OC_EC_SUL, OC_EC_NIT, OC_EC_CH, NA_K_OC_EC, CA_EC];
const PMF_DATA = [OOA, COA, HOA, PCOA, BBOA];
const MASS_DATA = [NITRATE, SULPHATE, AMMONIUM, CHLORIDE];

// drawing order (lower = on top)
const ATOFMS_ORDER = [5, 3, 4, 2, 1];
const PMF_ORDER = [1, 2, 5, 4, 3];
const MASS_ORDER = [4, 3, 2, 1];

const dayGridPlugin = {
  id: 'dayGrid',
  beforeDatasetsDraw(chart: any) {
    const { ctx, chartArea, scales } = chart;
    const xs = scales.x;
    ctx.save();
    ctx.lineWidth = 1;
    for (let i = 0; i < DAY_LABELS.length; i++) {
      const d = FIRST_DAY + i;
      if (i > 0) {
        const px = Math.round(xs.getPixelForValue(d)) + 0.5;
        ctx.setLineDash([]);
        ctx.strokeStyle = '#3a3a3a';
        ctx.beginPath();
        ctx.moveTo(px, chartArea.top);
        ctx.lineTo(px, chartArea.bottom);
        ctx.stroke();
      }
      if (d + 0.5 < LAST_TIME) {
        const ph = Math.round(xs.getPixelForValue(d + 0.5)) + 0.5;
        ctx.setLineDash([2, 2]);
        ctx.strokeStyle = '#707070';
        ctx.beginPath();
        ctx.moveTo(ph, chartArea.top);
        ctx.lineTo(ph, chartArea.bottom);
        ctx.stroke();
      }
    }
    ctx.restore();
  },
  afterDraw(chart: any) {
    const { ctx, chartArea, scales } = chart;
    const xs = scales.x;
    ctx.save();
    for (let i = 0; i < PERIOD_START.length; i++) {
      const x1 = xs.getPixelForValue(PERIOD_START[i]);
      const x2 = xs.getPixelForValue(PERIOD_END[i]);
      const top = chartArea.top - 13;
      ctx.fillStyle = PERIOD_COLORS[PERIOD_KIND[i]];
      ctx.fillRect(x1, top, x2 - x1, 13);
      ctx.strokeStyle = '#222';
      ctx.lineWidth = 1;
      ctx.strokeRect(Math.round(x1) + 0.5, top + 0.5, Math.round(x2 - x1), 12.5);
    }
    ctx.restore();
  },
};

function makeSet(label: string, data: Pt[], color: string, axis: string, order: number) {
  return {
    label,
    data,
    yAxisID: axis,
    order,
    borderColor: color,
    backgroundColor: color,
    borderWidth: 3.4,
    pointRadius: 0,
    pointHoverRadius: 0,
    tension: 0,
    fill: false,
    spanGaps: false,
    borderJoinStyle: 'round',
    borderCapStyle: 'round',
  };
}

const tickFont = { family: FONT, size: 16, weight: 'bold' as const };

function yAxis(min: number, max: number, tickValues: number[], labelled: number[], weight: number, title: string[], lh: string, padTop: number) {
  return {
    type: 'linear',
    position: 'left',
    stack: 'panels',
    stackWeight: weight,
    min,
    max,
    offset: false,
    afterBuildTicks: (s: any) => { s.ticks = tickValues.map((v) => ({ value: v })); },
    ticks: {
      autoSkip: false,
      font: tickFont,
      color: '#000',
      padding: 3,
      callback: (v: any) => {
        const n = Number(v);
        return labelled.some((l) => Math.abs(l - n) < 1e-6) ? String(Math.round(n)) : '';
      },
    },
    grid: { drawOnChartArea: false, drawTicks: true, tickLength: 8, tickColor: '#333', tickWidth: 1 },
    border: { display: true, color: '#666', width: 1 },
    title: { display: true, text: title, color: '#000', font: { family: FONT, size: 16, weight: 'bold', lineHeight: lh }, padding: { top: padTop, bottom: 0 } },
    afterFit: (s: any) => { s.width = 111; },
  };
}

function ChartCanvas() {
  const ref = useRef<HTMLCanvasElement | null>(null);
  useEffect(() => {
    if (!ref.current) return;
    const datasets: any[] = [];
    ATOFMS_DATA.forEach((d, i) => datasets.push(makeSet(ATOFMS_NAMES[i], d, ATOFMS_COLORS[i], 'yT', 10 + ATOFMS_ORDER[i])));
    PMF_DATA.forEach((d, i) => datasets.push(makeSet(PMF_NAMES[i], d, PMF_COLORS[i], 'yM', 20 + PMF_ORDER[i])));
    MASS_DATA.forEach((d, i) => datasets.push(makeSet(MASS_NAMES[i], d, MASS_COLORS[i], 'yB', 30 + MASS_ORDER[i])));

    const chart = new Chart(ref.current, {
      type: 'line',
      data: { datasets },
      plugins: [dayGridPlugin],
      options: {
        animation: false,
        responsive: false,
        maintainAspectRatio: false,
        devicePixelRatio: 1,
        layout: { padding: { top: 33, right: 20, bottom: 0, left: 0 } },
        plugins: { legend: { display: false }, tooltip: { enabled: false }, title: { display: false } },
        events: [],
        scales: {
          x: {
            type: 'linear',
            min: FIRST_DAY,
            max: LAST_TIME,
            ticks: {
              stepSize: 0.5,
              includeBounds: false,
              autoSkip: false,
              maxRotation: 90,
              minRotation: 90,
              padding: 2,
              font: { family: FONT, size: 17, weight: 'bold' },
              color: '#000',
              callback: (v: any) => {
                const n = Number(v);
                return Number.isInteger(n) ? DAY_LABELS[n - FIRST_DAY] ?? '' : '';
              },
            },
            grid: { drawOnChartArea: false, drawTicks: true, tickLength: 6, tickColor: '#333' },
            border: { display: true, color: '#222', width: 1.5 },
            title: { display: true, text: 'Time', color: '#000', font: { family: FONT, size: 18, weight: 'bold', lineHeight: 1.2 }, padding: { top: 0, bottom: 0 } },
            afterFit: (s: any) => { s.height = 84; },
          },
          yB: yAxis(-0.1, 5.8, BOT_TICKS, BOT_LABELLED, 130, ['AMS', 'mass loadings'], '14px', 31),
          yM: yAxis(-0.05, 7, MID_TICKS, MID_LABELLED, 130, ['AMS PMF'], '19px', 48),
          yT: yAxis(-25, 3550, TOP_TICKS, TOP_LABELLED, 111, ['ATOFMS', 'counts'], '17px', 12.5),
        },
      } as any,
    });
    return () => chart.destroy();
  }, []);
  return <canvas ref={ref} width={810} height={488} style={{ position: 'absolute', left: 0, top: 0, width: 810, height: 488 }} />;
}

function Txt({ x, cy, size, children, underline }: { x: number; cy: number; size: number; children: React.ReactNode; underline?: boolean }) {
  return (
    <div style={{ position: 'absolute', left: x, top: cy - 12, height: 24, lineHeight: '24px', fontSize: size, fontWeight: 'bold', whiteSpace: 'nowrap', color: '#000', textDecoration: underline ? 'underline' : 'none', textDecorationThickness: underline ? '1.5px' : undefined, textUnderlineOffset: underline ? '2px' : undefined }}>
      {children}
    </div>
  );
}

function LegendRow({ cy, color, name }: { cy: number; color: string; name: string }) {
  return (
    <>
      <div style={{ position: 'absolute', left: 819, top: cy - 2, width: 29, height: 4, background: color }} />
      <Txt x={855} cy={cy} size={15}>{name}</Txt>
    </>
  );
}

export default function App() {
  const atofmsRows = [144, 162, 180, 197.5, 215];
  const pmfRows = [287, 304, 321.5, 339, 357];
  const massRows = [429, 447, 465, 483];
  return (
    <div style={{ position: 'absolute', left: 0, top: 0, width: 984, height: 488, background: '#fff', fontFamily: FONT, overflow: 'hidden' }}>
      <ChartCanvas />
      <div style={{ position: 'absolute', left: 797, top: 11, width: 186, height: 77, border: '3px solid #000', boxSizing: 'border-box' }} />
      <div style={{ position: 'absolute', left: 822, top: 23, width: 27, height: 16, background: PERIOD_COLORS[0], border: '1px solid #333', boxSizing: 'border-box' }} />
      <Txt x={855} cy={31} size={20}>{PERIOD_NAMES[0]}</Txt>
      <div style={{ position: 'absolute', left: 822, top: 52, width: 27, height: 16, background: PERIOD_COLORS[1], border: '1px solid #333', boxSizing: 'border-box' }} />
      <Txt x={855} cy={61} size={20}>{PERIOD_NAMES[1]}</Txt>

      <Txt x={805} cy={108} size={15} underline>ATOFMS Art-2a Clusters</Txt>
      {ATOFMS_NAMES.map((n, i) => <LegendRow key={n} cy={atofmsRows[i]} color={ATOFMS_COLORS[i]} name={n} />)}

      <Txt x={817} cy={251} size={15} underline>AMS PMF Factors</Txt>
      {PMF_NAMES.map((n, i) => <LegendRow key={n} cy={pmfRows[i]} color={PMF_COLORS[i]} name={n} />)}

      <Txt x={813} cy={393} size={15} underline>AMS mass loadings</Txt>
      {MASS_NAMES.map((n, i) => <LegendRow key={n} cy={massRows[i]} color={MASS_COLORS[i]} name={n} />)}
    </div>
  );
}
